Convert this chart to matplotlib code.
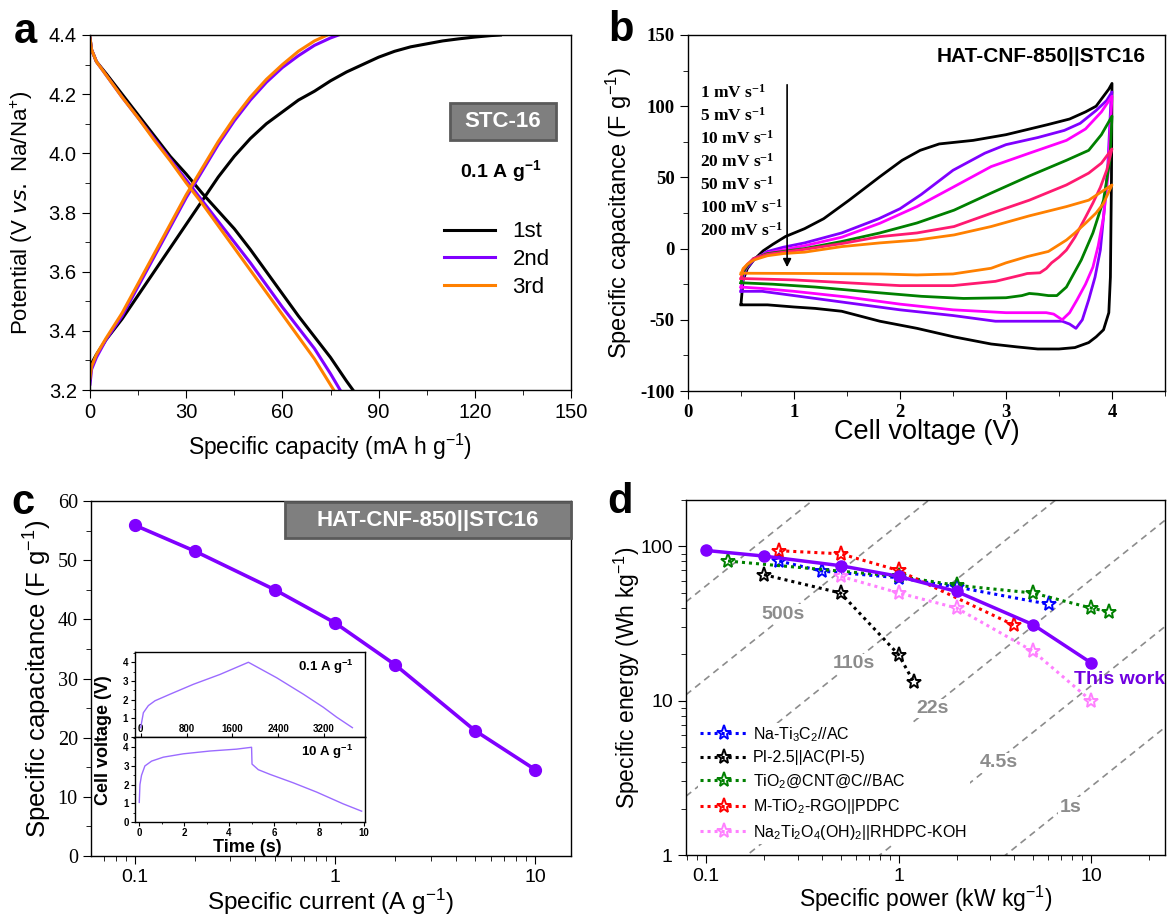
import numpy as np
import matplotlib
matplotlib.use('Agg')
import matplotlib.pyplot as plt
from matplotlib.patches import Rectangle
from matplotlib.ticker import MultipleLocator, NullFormatter, LogLocator

plt.rcParams['font.family'] = ['Liberation Sans', 'DejaVu Sans']
plt.rcParams['mathtext.default'] = 'regular'
plt.rcParams['axes.linewidth'] = 1.0
plt.rcParams['xtick.major.size'] = 6
plt.rcParams['ytick.major.size'] = 6
plt.rcParams['xtick.minor.size'] = 3.5
plt.rcParams['ytick.minor.size'] = 3.5

# ---------------- Panel a data: GCD of STC-16 ----------------
a_ch1_x = [0, 2, 5, 10, 15, 20, 25, 30, 35, 40, 45, 50, 55, 60, 65, 70, 75, 80, 85, 90, 95, 100, 105, 110, 115, 120, 125, 128]
a_ch1_y = [3.28, 3.32, 3.37, 3.44, 3.52, 3.60, 3.68, 3.76, 3.84, 3.92, 3.99, 4.05, 4.10, 4.14, 4.18, 4.21, 4.245, 4.275, 4.30, 4.325, 4.345, 4.36, 4.37, 4.38, 4.387, 4.393, 4.398, 4.40]
a_dc1_x = [0, 0.5, 2, 5, 10, 15, 20, 25, 30, 35, 40, 45, 50, 55, 60, 65, 70, 75, 80, 82]
a_dc1_y = [4.39, 4.35, 4.31, 4.27, 4.20, 4.13, 4.06, 3.99, 3.93, 3.865, 3.805, 3.745, 3.675, 3.60, 3.525, 3.45, 3.38, 3.31, 3.23, 3.20]
a_ch2_x = [0, 0.5, 2, 5, 10, 15, 20, 25, 30, 35, 40, 45, 50, 55, 60, 65, 70, 75, 77.5]
a_ch2_y = [3.22, 3.27, 3.31, 3.37, 3.45, 3.55, 3.65, 3.75, 3.85, 3.94, 4.03, 4.11, 4.18, 4.24, 4.29, 4.33, 4.365, 4.39, 4.40]
a_dc2_x = [0, 0.5, 2, 5, 10, 15, 20, 25, 30, 35, 40, 45, 50, 55, 60, 65, 70, 75, 78]
a_dc2_y = [4.39, 4.35, 4.31, 4.265, 4.19, 4.12, 4.05, 3.98, 3.91, 3.84, 3.77, 3.70, 3.63, 3.555, 3.48, 3.41, 3.34, 3.255, 3.20]
a_ch3_x = [0, 0.5, 2, 5, 10, 15, 20, 25, 30, 35, 40, 45, 50, 55, 60, 65, 70, 74]
a_ch3_y = [3.24, 3.28, 3.32, 3.375, 3.46, 3.56, 3.66, 3.76, 3.86, 3.95, 4.04, 4.12, 4.19, 4.25, 4.30, 4.345, 4.38, 4.40]
a_dc3_x = [0, 0.5, 2, 5, 10, 15, 20, 25, 30, 35, 40, 45, 50, 55, 60, 65, 70, 76]
a_dc3_y = [4.39, 4.35, 4.31, 4.265, 4.19, 4.12, 4.045, 3.975, 3.90, 3.83, 3.755, 3.68, 3.605, 3.53, 3.455, 3.38, 3.305, 3.20]
a_labels = ['1st', '2nd', '3rd']

# ---------------- Panel b data: CV curves ----------------
cv_labels = ['1 mV s$^{-1}$', '5 mV s$^{-1}$', '10 mV s$^{-1}$', '20 mV s$^{-1}$',
             '50 mV s$^{-1}$', '100 mV s$^{-1}$', '200 mV s$^{-1}$']
cv1_up_v = [0.5, 0.52, 0.56, 0.62, 0.71, 0.8, 0.92, 1.1, 1.28, 1.52, 1.81, 2.02, 2.19, 2.37, 2.69, 3.0, 3.39, 3.6, 3.75, 3.85, 3.92, 3.97, 4.0]
cv1_up_c = [-39, -22, -14, -8, -1.5, 3, 8.5, 14, 21, 34, 50.5, 62, 69, 73.5, 76, 80, 87, 91, 96, 100, 107, 112, 116]
cv1_lo_v = [4.0, 3.995, 3.985, 3.97, 3.92, 3.85, 3.78, 3.65, 3.5, 3.3, 3.1, 2.86, 2.51, 2.16, 1.81, 1.45, 1.2, 1.0, 0.75, 0.5]
cv1_lo_c = [116, 50, -20, -45, -57, -62, -66, -69.5, -70.5, -70.5, -69, -67, -62, -56, -51, -44, -42, -41, -39.5, -39.5]
cv2_up_v = [0.5, 0.52, 0.55, 0.62, 0.75, 0.9, 1.1, 1.45, 1.8, 2.0, 2.2, 2.5, 2.8, 3.0, 3.3, 3.55, 3.7, 3.85, 3.95, 4.0]
cv2_up_c = [-30, -20, -14, -8, -2, 1, 4, 11, 21, 28, 38, 55, 67, 73, 78, 83, 88, 97, 104, 110]
cv2_lo_v = [4.0, 3.99, 3.96, 3.93, 3.89, 3.84, 3.78, 3.72, 3.66, 3.6, 3.53, 3.2, 2.9, 2.5, 2.0, 1.5, 1.0, 0.7, 0.5]
cv2_lo_c = [110, 104, 57, 30, -1, -20, -36, -50, -56, -53, -51, -51, -51, -47, -43, -38, -33, -30, -30]
cv3_up_v = [0.5, 0.52, 0.56, 0.62, 0.75, 1.1, 1.45, 1.81, 2.16, 2.51, 2.86, 3.22, 3.57, 3.75, 3.9, 4.0]
cv3_up_c = [-27, -18, -12, -7, -3, 2, 8, 17.8, 29.5, 43.5, 57.6, 67, 76, 84, 96, 107]
cv3_lo_v = [4.0, 3.99, 3.96, 3.92, 3.87, 3.82, 3.75, 3.67, 3.6, 3.53, 3.45, 3.38, 3.0, 2.5, 2.0, 1.5, 1.0, 0.7, 0.5]
cv3_lo_c = [107, 93, 50, 22, 2, -13, -25, -36, -45, -50, -46, -45, -45, -43, -39, -34, -30, -28, -27]
cv4_up_v = [0.5, 0.52, 0.56, 0.62, 0.75, 1.1, 1.45, 1.81, 2.16, 2.51, 2.86, 3.22, 3.57, 3.78, 3.9, 4.0]
cv4_up_c = [-24, -17, -12, -7, -3.5, 0, 5, 11, 18, 27, 39, 51, 62, 69, 80, 93]
cv4_lo_v = [4.0, 3.98, 3.92, 3.82, 3.71, 3.57, 3.48, 3.4, 3.3, 3.22, 3.15, 3.0, 2.6, 2.2, 1.8, 1.2, 0.8, 0.5]
cv4_lo_c = [93, 62, 34, 11, -8, -27, -33, -33, -32, -31.5, -33, -34.5, -35, -33.5, -31, -27, -25, -24]
cv5_up_v = [0.5, 0.52, 0.56, 0.62, 0.75, 1.1, 1.45, 1.81, 2.16, 2.51, 2.86, 3.22, 3.57, 3.78, 3.9, 4.0]
cv5_up_c = [-21, -15, -11, -7, -4, -0.5, 3.5, 8.4, 11, 15.5, 24.8, 34, 44.7, 53, 60, 70]
cv5_lo_v = [4.0, 3.95, 3.89, 3.82, 3.75, 3.65, 3.57, 3.5, 3.43, 3.38, 3.32, 3.2, 3.15, 2.9, 2.5, 2.0, 1.5, 1.0, 0.5]
cv5_lo_c = [70, 55, 43, 32, 22, 8, -1, -6, -10, -14, -17, -17.5, -18.5, -23, -26, -26, -24, -22, -21]
cv6_up_v = [0.5, 0.52, 0.56, 0.62, 0.75, 0.9, 1.1, 1.45, 1.81, 2.16, 2.51, 2.86, 3.22, 3.57, 3.78, 4.0]
cv6_up_c = [-18, -14, -11, -8, -5, -3.5, -2.5, 1.4, 4, 6, 9.6, 15.5, 23, 29.5, 34, 44.7]
cv6_lo_v = [4.0, 3.92, 3.85, 3.75, 3.65, 3.57, 3.4, 3.2, 3.0, 2.86, 2.5, 2.16, 1.81, 1.2, 0.5]
cv6_lo_c = [44.7, 31.8, 25, 17.8, 11, 6, -2, -5.6, -10, -13.8, -17.8, -18.5, -17.8, -17.5, -17.3]
cv_colors = ['#000000', '#8000ff', '#ff00ff', '#008000', '#ff1a70', '#ff8000']

# ---------------- Panel c data ----------------
c_current = [0.1, 0.2, 0.5, 1, 2, 5, 10]
c_capac = [55.9, 51.5, 45.0, 39.4, 32.3, 21.2, 14.6]
ins1_t = [0, 47, 134, 250, 512, 919, 1385, 1880, 2374, 2840, 3188, 3421, 3695]
ins1_v = [0.5, 1.3, 1.68, 1.94, 2.29, 2.82, 3.35, 4.0, 3.17, 2.29, 1.59, 1.06, 0.5]
ins2_t = [0, 0.03, 0.1, 0.25, 0.55, 1.07, 1.96, 3.15, 4.33, 5.0, 5.02, 5.3, 5.82, 6.85, 7.9, 9.08, 9.9]
ins2_v = [1.05, 2.0, 2.5, 3.0, 3.26, 3.47, 3.65, 3.8, 3.9, 4.0, 3.1, 2.8, 2.55, 2.1, 1.6, 0.97, 0.58]

# ---------------- Panel d data: Ragone ----------------
tw_p = [0.1, 0.2, 0.5, 1, 2, 5, 10]
tw_e = [94.2, 86.6, 75.0, 64.0, 51.1, 31.1, 17.6]
naTi_p = [0.24, 0.4, 1, 2, 6.04]
naTi_e = [80.4, 69.2, 62.7, 54.6, 42.2]
pi_p = [0.2, 0.5, 1, 1.2]
pi_e = [65.6, 49.9, 19.9, 13.2]
tio2_p = [0.13, 1, 2, 5, 10, 12.4]
tio2_e = [80.4, 64.0, 56.0, 49.9, 39.9, 37.6]
mtio_p = [0.24, 0.5, 1, 4.0]
mtio_e = [93.8, 89.6, 69.9, 30.8]
na2_p = [0.5, 1, 2, 5, 10]
na2_e = [64.0, 50.0, 39.9, 20.9, 10.0]
d_labels = ['Na-Ti$_3$C$_2$//AC', 'PI-2.5||AC(PI-5)', 'TiO$_2$@CNT@C//BAC',
            'M-TiO$_2$-RGO||PDPC', 'Na$_2$Ti$_2$O$_4$(OH)$_2$||RHDPC-KOH']
d_colors = ['#0000ff', '#000000', '#008000', '#ff0000', '#ff80ff']
times_s = [2000, 500, 110, 22, 4.5, 1]
time_labels = ['500s', '110s', '22s', '4.5s', '1s']
time_label_pos = [(0.25, 36.3), (0.585, 17.4), (1.5, 8.9), (3.3, 3.96), (7.8, 2.04)]

W, H = 1167, 915
fig = plt.figure(figsize=(W / 100, H / 100), dpi=100)


def ax_px(l, t, r, b):
    return fig.add_axes([l / W, 1 - b / H, (r - l) / W, (b - t) / H])


SERIF = ['Liberation Serif', 'DejaVu Serif']
SANS = ['Liberation Sans', 'DejaVu Sans']

# ================= Panel a =================
ax = ax_px(90, 35, 571, 390)
purple = '#8000ff'
orange = '#ff8000'
ax.plot(a_ch1_x, a_ch1_y, color='k', lw=2.2, label=a_labels[0])
ax.plot(a_dc1_x, a_dc1_y, color='k', lw=2.2)
ax.plot(a_ch2_x, a_ch2_y, color=purple, lw=2.2, label=a_labels[1])
ax.plot(a_dc2_x, a_dc2_y, color=purple, lw=2.2)
ax.plot(a_ch3_x, a_ch3_y, color=orange, lw=2.2, label=a_labels[2])
ax.plot(a_dc3_x, a_dc3_y, color=orange, lw=2.2)
ax.set_xlim(0, 150)
ax.set_ylim(3.2, 4.4)
ax.set_xticks([0, 30, 60, 90, 120, 150], ['0', '30', '60', '90', '120', '150'], fontsize=14.5, family=SANS)
ax.set_yticks([3.2, 3.4, 3.6, 3.8, 4.0, 4.2, 4.4], ['3.2', '3.4', '3.6', '3.8', '4.0', '4.2', '4.4'], fontsize=14.5, family=SANS)
ax.xaxis.set_minor_locator(MultipleLocator(15))
ax.yaxis.set_minor_locator(MultipleLocator(0.1))
ax.set_xlabel('Specific capacity (mA h g$^{-1}$)', fontsize=16.5)
ax.set_ylabel('Potential (V $\\it{vs.}$ Na/Na$^{+}$)', fontsize=16)
ax.xaxis.set_label_coords(0.5, -0.16)
ax.xaxis.label.set_va('center')
ax.yaxis.set_label_coords(-0.141, 0.5)
ax.yaxis.label.set_va('center')
ax.add_patch(Rectangle((0.748, 0.705), 0.221, 0.104, transform=ax.transAxes,
                       fc='#7f7f7f', ec='#5a5a5a', lw=2, zorder=5))
ax.text(0.858, 0.757, 'STC-16', transform=ax.transAxes, color='white', fontsize=16,
        fontweight='bold', ha='center', va='center', zorder=6)
ax.text(0.854, 0.617, '0.1 A g$^{-1}$', transform=ax.transAxes, fontsize=14,
        fontweight='bold', ha='center', va='center')
ax.legend(loc='upper left', bbox_to_anchor=(0.735, 0.475), frameon=False, fontsize=16,
          handlelength=2.3, handletextpad=0.8, labelspacing=0.3, borderpad=0, borderaxespad=0)
fig.text(25 / W, 1 - 32 / H, 'a', fontsize=30, fontweight='bold', ha='center', va='center')

# ================= Panel b =================
ax = ax_px(688, 35, 1165, 391)
cv_up_v = [cv1_up_v, cv2_up_v, cv3_up_v, cv4_up_v, cv5_up_v, cv6_up_v]
cv_up_c = [cv1_up_c, cv2_up_c, cv3_up_c, cv4_up_c, cv5_up_c, cv6_up_c]
cv_lo_v = [cv1_lo_v, cv2_lo_v, cv3_lo_v, cv4_lo_v, cv5_lo_v, cv6_lo_v]
cv_lo_c = [cv1_lo_c, cv2_lo_c, cv3_lo_c, cv4_lo_c, cv5_lo_c, cv6_lo_c]
for uv, uc, lv, lc, col in zip(cv_up_v, cv_up_c, cv_lo_v, cv_lo_c, cv_colors):
    ax.plot(list(uv) + list(lv), list(uc) + list(lc), color=col, lw=2.0)
ax.set_xlim(0, 4.5)
ax.set_ylim(-100, 150)
ax.set_xticks([0, 1, 2, 3, 4], ['0', '1', '2', '3', '4'], fontsize=13.5, family=SERIF, fontweight='bold')
ax.set_yticks([-100, -50, 0, 50, 100, 150], ['-100', '-50', '0', '50', '100', '150'], fontsize=13.5, family=SERIF, fontweight='bold')
ax.xaxis.set_minor_locator(MultipleLocator(0.5))
ax.yaxis.set_minor_locator(MultipleLocator(25))
ax.set_xlabel('Cell voltage (V)', fontsize=19.5)
ax.set_ylabel('Specific capacitance (F g$^{-1}$)', fontsize=17)
ax.xaxis.set_label_coords(0.5, -0.115)
ax.xaxis.label.set_va('center')
ax.yaxis.set_label_coords(-0.145, 0.5)
ax.yaxis.label.set_va('center')
ax.text(0.74, 0.94, 'HAT-CNF-850||STC16', transform=ax.transAxes, fontsize=15,
        fontweight='bold', ha='center', va='center')
for i, lab in enumerate(cv_labels):
    ax.text(0.025, 0.837 - i * 0.0646, lab, transform=ax.transAxes, fontsize=12.5,
            family=SERIF, fontweight='bold', ha='left', va='center')
ax.annotate('', xy=(0.935, -15), xytext=(0.935, 117),
            arrowprops=dict(arrowstyle='-|>', color='k', lw=1.2, mutation_scale=12))
fig.text(621 / W, 1 - 30 / H, 'b', fontsize=30, fontweight='bold', ha='center', va='center')

# ================= Panel c =================
ax = ax_px(91, 501, 571, 856)
ax.plot(c_current, c_capac, color=purple, lw=2.6, marker='o', ms=8.5)
ax.set_xscale('log')
ax.set_xlim(0.0603, 15.1)
ax.set_ylim(0, 60)
ax.set_xticks([0.1, 1, 10], ['0.1', '1', '10'], fontsize=14, family=SANS)
ax.tick_params(axis='x', pad=3)
ax.xaxis.set_minor_locator(LogLocator(base=10, subs=np.arange(2, 10)))
ax.xaxis.set_minor_formatter(NullFormatter())
ax.set_yticks([0, 10, 20, 30, 40, 50, 60], ['0', '10', '20', '30', '40', '50', '60'], fontsize=14.5, family=SERIF)
ax.yaxis.set_minor_locator(MultipleLocator(5))
ax.set_xlabel('Specific current (A g$^{-1}$)', fontsize=17.5)
ax.set_ylabel('Specific capacitance (F g$^{-1}$)', fontsize=18.5)
ax.xaxis.set_label_coords(0.5, -0.13)
ax.xaxis.label.set_va('center')
ax.yaxis.set_label_coords(-0.11, 0.5)
ax.yaxis.label.set_va('center')
ax.add_patch(Rectangle((0.404, 0.896), 0.596, 0.101, transform=ax.transAxes,
                       fc='#7f7f7f', ec='#5a5a5a', lw=2, zorder=5, clip_on=False))
ax.text(0.702, 0.946, 'HAT-CNF-850||STC16', transform=ax.transAxes, color='white', fontsize=16,
        fontweight='bold', ha='center', va='center', zorder=6)
fig.text(23 / W, 1 - 503 / H, 'c', fontsize=30, fontweight='bold', ha='center', va='center')

inset_col = '#9b6bff'
ia = ax_px(135, 652, 365, 737)
ia.plot(ins1_t, ins1_v, color=inset_col, lw=1.0)
ia.set_xlim(-99, 3915)
ia.set_ylim(0, 4.55)
ia.set_xticks([0, 800, 1600, 2400, 3200], ['0', '800', '1600', '2400', '3200'], fontsize=7, fontweight='bold')
ia.set_yticks([0, 1, 2, 3, 4], ['0', '1', '2', '3', '4'], fontsize=7, fontweight='bold')
ia.tick_params(axis='x', direction='in', pad=-9, length=3)
ia.tick_params(axis='y', length=3, pad=2)
ia.xaxis.set_minor_locator(MultipleLocator(400))
ia.yaxis.set_minor_locator(MultipleLocator(0.5))
ia.tick_params(which='minor', length=1.5)
ia.text(0.95, 0.83, '0.1 A g$^{-1}$', transform=ia.transAxes, fontsize=9.5, fontweight='bold',
        ha='right', va='center')
ib = ax_px(135, 737, 365, 822)
ib.plot(ins2_t, ins2_v, color=inset_col, lw=1.0)
ib.set_xlim(-0.19, 10.05)
ib.set_ylim(0, 4.55)
ib.set_xticks([0, 2, 4, 6, 8, 10], ['0', '2', '4', '6', '8', '10'], fontsize=7, fontweight='bold')
ib.set_yticks([0, 1, 2, 3, 4], ['0', '1', '2', '3', '4'], fontsize=7, fontweight='bold')
ib.tick_params(axis='both', length=3, pad=1.5)
ib.xaxis.set_minor_locator(MultipleLocator(1))
ib.yaxis.set_minor_locator(MultipleLocator(0.5))
ib.tick_params(which='minor', length=1.5)
ib.text(0.95, 0.83, '10 A g$^{-1}$', transform=ib.transAxes, fontsize=9.5, fontweight='bold',
        ha='right', va='center')
fig.text(104 / W, 1 - 740 / H, 'Cell voltage (V)', rotation=90, fontsize=13, fontweight='bold',
         ha='center', va='center')
fig.text(247 / W, 1 - 847 / H, 'Time (s)', fontsize=13, fontweight='bold', ha='center', va='center')

# ================= Panel d =================
ax = ax_px(686, 500, 1165, 855)
ax.set_xscale('log')
ax.set_yscale('log')
ax.set_xlim(0.0787, 24.2)
ax.set_ylim(1, 200)
pgrid = np.array([0.0787, 24.2])
for t in times_s:
    ax.plot(pgrid, pgrid * t / 3.6, color='#8c8c8c', lw=1.2, ls=(0, (4, 3)), zorder=1)
for lab, (px, py) in zip(time_labels, time_label_pos):
    ax.text(px, py, lab, fontsize=14, fontweight='bold', color='#8c8c8c', ha='center', va='center',
            zorder=7, bbox=dict(fc='white', ec='none', pad=1.0))
series = [(naTi_p, naTi_e), (pi_p, pi_e), (tio2_p, tio2_e), (mtio_p, mtio_e), (na2_p, na2_e)]
for (p, e), lab, col in zip(series, d_labels, d_colors):
    ax.plot(p, e, ls=(0, (1, 1.3)), lw=2.2, color=col, marker='*', ms=11, mfc='none', mew=1.4,
            label=lab, zorder=3)
ax.plot(tw_p, tw_e, color=purple, lw=2.5, marker='o', ms=8, zorder=4)
ax.text(14.0, 13.8, 'This work', color='#7000e0', fontsize=14, fontweight='bold',
        ha='center', va='center', zorder=5)
ax.set_xticks([0.1, 1, 10], ['0.1', '1', '10'], fontsize=14, family=SANS)
ax.set_yticks([1, 10, 100], ['1', '10', '100'], fontsize=14, family=SANS)
ax.xaxis.set_minor_locator(LogLocator(base=10, subs=np.arange(2, 10)))
ax.xaxis.set_minor_formatter(NullFormatter())
ax.yaxis.set_minor_locator(LogLocator(base=10, subs=np.arange(2, 10)))
ax.yaxis.set_minor_formatter(NullFormatter())
ax.set_xlabel('Specific power (kW kg$^{-1}$)', fontsize=16.5)
ax.set_ylabel('Specific energy (Wh kg$^{-1}$)', fontsize=16.5)
ax.xaxis.set_label_coords(0.5, -0.125)
ax.xaxis.label.set_va('center')
ax.yaxis.set_label_coords(-0.123, 0.5)
ax.yaxis.label.set_va('center')
leg = ax.legend(loc='lower left', bbox_to_anchor=(0.025, 0.03), fontsize=11.5, handlelength=3.0,
                handletextpad=0.3, labelspacing=0.42, borderpad=0.15, borderaxespad=0,
                frameon=True, fancybox=False, edgecolor='none', facecolor='white', framealpha=1)
leg.set_zorder(6)
fig.text(620 / W, 1 - 502 / H, 'd', fontsize=30, fontweight='bold', ha='center', va='center')

fig.savefig('out.png', dpi=100)
